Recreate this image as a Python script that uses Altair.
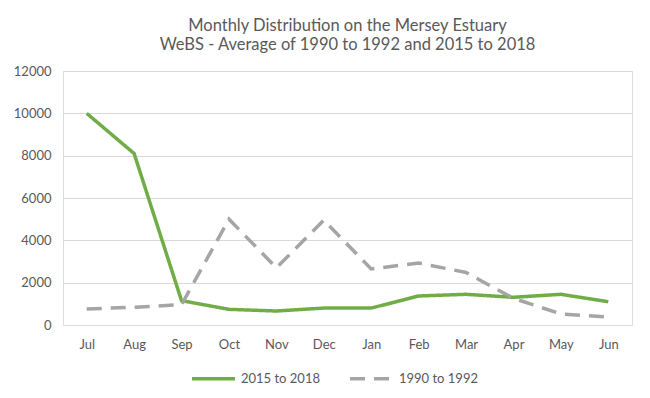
import altair as alt
import pandas as pd

months = ["Jul", "Aug", "Sep", "Oct", "Nov", "Dec", "Jan", "Feb", "Mar", "Apr", "May", "Jun"]
recent = [10000, 8100, 1150, 740, 660, 800, 800, 1370, 1450, 1310, 1450, 1100]
early = [760, 840, 960, 5000, 2700, 4950, 2650, 2930, 2480, 1260, 520, 380]
series_names = ["2015 to 2018", "1990 to 1992"]

rows = []
for m, v in zip(months, recent):
    rows.append({"Month": m, "Count": v, "Series": series_names[0]})
for m, v in zip(months, early):
    rows.append({"Month": m, "Count": v, "Series": series_names[1]})
df = pd.DataFrame(rows)

FONT = "Lato"
TXT = "#595959"

chart = alt.Chart(df).mark_line(strokeWidth=3.5, strokeCap="butt").encode(
    x=alt.X("Month:N", sort=months, title=None,
            scale=alt.Scale(paddingOuter=0.5),
            axis=alt.Axis(labelAngle=0, domain=False, ticks=False, grid=False,
                          labelPadding=13, labelFontSize=13, labelColor=TXT, labelFont=FONT)),
    y=alt.Y("Count:Q", title=None,
            scale=alt.Scale(domain=[0, 12000], nice=False),
            axis=alt.Axis(values=[0, 2000, 4000, 6000, 8000, 10000, 12000], format="d",
                          domain=False, ticks=False, gridColor="#D9D9D9", gridWidth=1,
                          labelPadding=12, labelFontSize=13, labelColor=TXT, labelFont=FONT)),
    color=alt.Color("Series:N", sort=series_names,
                    scale=alt.Scale(domain=series_names, range=["#70AD47", "#A5A5A5"]),
                    legend=alt.Legend(title=None, orient="none", direction="horizontal",
                                      legendX=127, legendY=284,
                                      symbolType="stroke", symbolSize=1850, symbolStrokeWidth=3.5,
                                      labelFontSize=13, labelColor=TXT, labelFont=FONT,
                                      labelOffset=4, columnPadding=22, symbolOffset=0)),
    strokeDash=alt.StrokeDash("Series:N", sort=series_names,
                              scale=alt.Scale(domain=series_names, range=[[1, 0], [15, 9]]),
                              legend=None),
).properties(
    width=569,
    height=254,
    padding={"top": 10, "left": 5, "right": 5, "bottom": 5},
    title=alt.TitleParams(text=["Monthly Distribution on the Mersey Estuary",
                                "WeBS - Average of 1990 to 1992 and 2015 to 2018"],
                          font=FONT, fontSize=16.5, fontWeight="normal", color=TXT,
                          lineHeight=18.5, anchor="middle", offset=12),
).configure_view(stroke=None).configure(background="white")

chart.save("out.html", embed_options={"renderer": "svg", "actions": False})
